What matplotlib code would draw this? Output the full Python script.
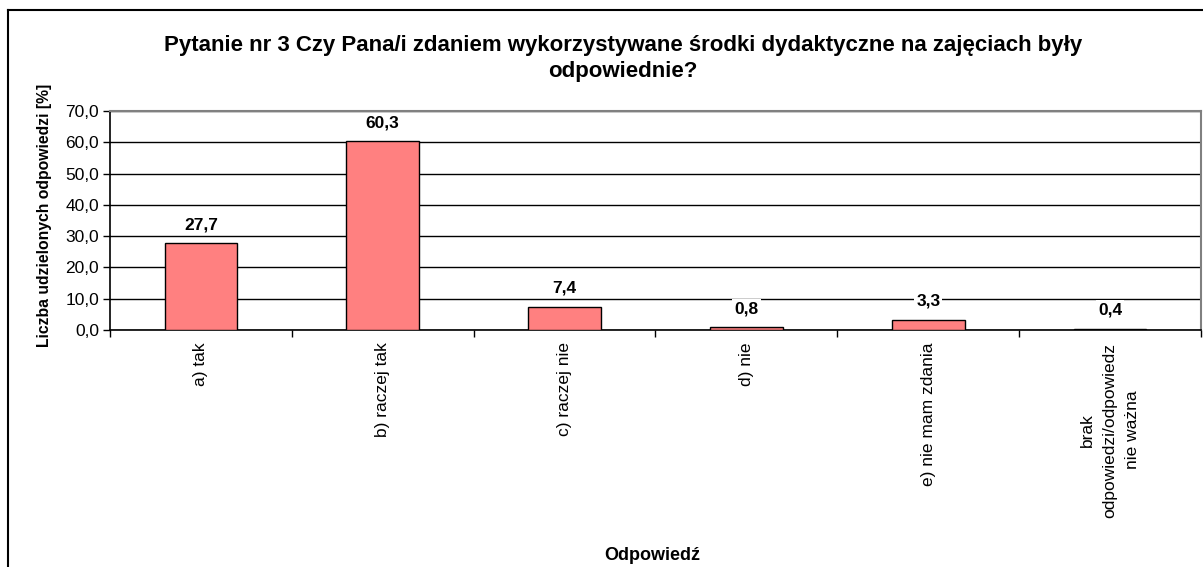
import numpy as np
import matplotlib.pyplot as plt
from matplotlib.lines import Line2D

plt.rcParams['font.family'] = ['Liberation Sans', 'DejaVu Sans']

# dane z wykresu
kategorie = ['a) tak', 'b) raczej tak', 'c) raczej nie', 'd) nie',
             'e) nie mam zdania', 'brak\nodpowiedzi/odpowiedz\nnie ważna']
wartosci = [27.7, 60.3, 7.4, 0.8, 3.3, 0.4]
y_ticks = np.arange(0, 71, 10)

fig = plt.figure(figsize=(12.03, 5.67), dpi=100)
ax = fig.add_axes([110/1203, 1-330/567, 1091/1203, 219/567])

x = np.arange(len(kategorie))
ax.bar(x, wartosci, width=0.4, color='#FF8080', edgecolor='black', linewidth=1, zorder=3)

for xi, v in zip(x, wartosci):
    ax.annotate(f'{v:.1f}'.replace('.', ','), (xi, v), xytext=(0, 13.5), textcoords='offset points',
                ha='center', va='center', fontsize=12.5, fontweight='bold', zorder=5,
                bbox=dict(facecolor='white', edgecolor='none', pad=1.5))

ax.set_xlim(-0.5, len(kategorie) - 0.5)
ax.set_ylim(0, 70)
ax.set_yticks(y_ticks)
ax.set_yticklabels([f'{t:.1f}'.replace('.', ',') for t in y_ticks], fontsize=12.5)
ax.yaxis.grid(True, color='black', linewidth=1, zorder=0)
ax.set_axisbelow(True)

ax.set_xticks(x)
ax.set_xticklabels(kategorie, rotation=90, fontsize=12.5, va='top', ha='center',
                   multialignment='center', linespacing=1.6)
ax.tick_params(axis='x', which='major', length=0, pad=9)
ax.set_xticks(np.arange(-0.5, len(kategorie), 1), minor=True)
ax.tick_params(axis='x', which='minor', length=5, width=1, direction='out')
ax.tick_params(axis='y', length=5, width=1, direction='out', pad=3)

for s in ['left', 'bottom']:
    ax.spines[s].set_color('black')
    ax.spines[s].set_linewidth(1.2)
for s in ['top', 'right']:
    ax.spines[s].set_color('#808080')
    ax.spines[s].set_linewidth(1.5)

fig.text(623/1203, 1-45/567, 'Pytanie nr 3 Czy Pana/i zdaniem wykorzystywane środki dydaktyczne na zajęciach były',
         ha='center', va='center', fontsize=16, fontweight='bold')
fig.text(623/1203, 1-71/567, 'odpowiednie?', ha='center', va='center', fontsize=16, fontweight='bold')
fig.text(45/1203, 1-215/567, 'Liczba udzielonych odpowiedzi [%]', rotation=90,
         ha='center', va='center', fontsize=11.3, fontweight='bold')
fig.text(652/1203, 1-555/567, 'Odpowiedź', ha='center', va='center', fontsize=13, fontweight='bold')

# ramka wykresu
fig.add_artist(Line2D([8/1203, 8/1203], [0, 1-10/567], transform=fig.transFigure, color='black', linewidth=1.5))
fig.add_artist(Line2D([8/1203, 1], [1-10/567, 1-10/567], transform=fig.transFigure, color='black', linewidth=1.5))

fig.savefig('out.png', dpi=100)
